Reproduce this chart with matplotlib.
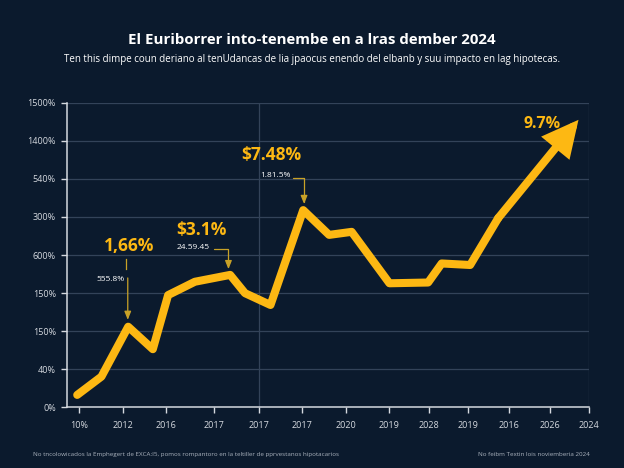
import matplotlib
matplotlib.use("Agg")
import matplotlib.pyplot as plt

# --- data ---
x_labels = ["10%", "2012", "2016", "2017", "2017", "2017", "2020",
            "2019", "2028", "2019", "2016", "2026", "2024"]
x_ticks = [0, 1.04, 2.05, 3.17, 4.24, 5.25, 6.28, 7.29, 8.23, 9.17, 10.13, 11.08, 12.0]
y_labels = ["0%", "40%", "150%", "150%", "600%", "300%", "540%", "1400%", "1500%"]

x_vals = [-0.04, 0.53, 1.16, 1.74, 2.10, 2.73, 3.56, 3.91, 4.51, 5.28,
          5.89, 6.42, 7.31, 8.22, 8.54, 9.21, 9.87]
rate_vals = [0.33, 0.81, 2.12, 1.53, 2.95, 3.30, 3.48, 3.00, 2.69, 5.18,
             4.53, 4.61, 3.26, 3.28, 3.78, 3.74, 4.97]
arrow_tip = (11.76, 7.55)

BG = "#0b1a2d"
GOLD = "#fdb813"
ANN_GOLD = "#c9a227"
GRID = "#334359"
TXT = "#d5d9df"

plt.rcParams["font.family"] = ["Open Sans", "DejaVu Sans"]

fig = plt.figure(figsize=(6.24, 4.68), dpi=100, facecolor=BG)
ax = fig.add_axes([0.1074, 0.1293, 0.836, 0.6513], facecolor=BG)

ax.set_xlim(-0.28, 12.0)
ax.set_ylim(0, 8)

for y in range(1, 9):
    ax.axhline(y, color=GRID, lw=0.9, zorder=0)
for xv in (x_ticks[4], x_ticks[12]):
    ax.axvline(xv, color=GRID, lw=0.9, zorder=0)

ax.plot(x_vals, rate_vals, color=GOLD, lw=5.8, solid_capstyle="round",
        solid_joinstyle="round", zorder=3)
ax.annotate("", xy=arrow_tip, xytext=(x_vals[-1], rate_vals[-1]),
            arrowprops=dict(arrowstyle="-|>,head_length=1.7,head_width=0.85",
                            color=GOLD, lw=5.8, shrinkA=0, shrinkB=0,
                            joinstyle="miter"),
            zorder=3)

ax.set_xticks(x_ticks)
ax.set_xticklabels(x_labels)
ax.set_yticks(range(9))
ax.set_yticklabels(y_labels)
ax.tick_params(colors=TXT, labelsize=6.5, length=4, width=1)
ax.tick_params(axis="x", pad=6)
ax.tick_params(axis="y", pad=4)
for side in ("top", "right"):
    ax.spines[side].set_visible(False)
for side in ("left", "bottom"):
    ax.spines[side].set_color(TXT)
    ax.spines[side].set_linewidth(1.1)

# callouts
def callout(big, small, big_xy, small_xy, start, end, angle=True):
    ax.text(*big_xy, big, color=GOLD, fontsize=12.5, fontweight="bold",
            ha="center", va="center", zorder=5)
    ax.text(*small_xy, small, color="white", fontsize=6, ha="center",
            va="center", zorder=5)
    conn = "angle,angleA=0,angleB=90,rad=0" if angle else "arc3"
    ax.annotate("", xy=end, xytext=start,
                arrowprops=dict(arrowstyle="-|>,head_length=0.5,head_width=0.2",
                                color=ANN_GOLD, lw=0.9, shrinkA=0, shrinkB=0,
                                connectionstyle=conn), zorder=4)

callout("1,66%", "555.8%", (1.19, 4.24), (0.75, 3.35), (1.15, 3.40), (1.15, 2.30), angle=False)
ax.plot([1.12, 1.12], [3.63, 3.90], color=ANN_GOLD, lw=0.9)
callout("$3.1%", "24.59.45", (2.88, 4.67), (2.70, 4.21), (3.18, 4.15), (3.52, 3.63))
callout("$7.48%", "1.81.5%", (4.52, 6.63), (4.63, 6.08), (5.04, 6.03), (5.30, 5.34))
ax.text(10.91, 7.44, "9.7%", color=GOLD, fontsize=11.5, fontweight="bold",
        ha="center", va="center", zorder=5)

fig.text(0.5, 0.9145, "El Euriborrer into-tenembe en a lras dember 2024",
         color="white", fontsize=10.8, fontweight="bold", ha="center", va="center")
fig.text(0.5, 0.872, "Ten this dimpe coun deriano al tenUdancas de lia jpaocus enendo "
         "del elbanb y suu impacto en lag hipotecas.",
         color="white", fontsize=7.0, ha="center", va="center")
fig.text(0.053, 0.028, "No tncolowicados la Emphegert de EXCA:I5, pomos rompantoro en la "
         "teltiller de pprvestanos hipotacarios", color="#aab2bd", fontsize=4.5,
         ha="left", va="center")
fig.text(0.946, 0.028, "No feibm Textin lois noviemberia 2024", color="#aab2bd",
         fontsize=4.5, ha="right", va="center")

fig.savefig("out.png", dpi=100, facecolor=BG)
